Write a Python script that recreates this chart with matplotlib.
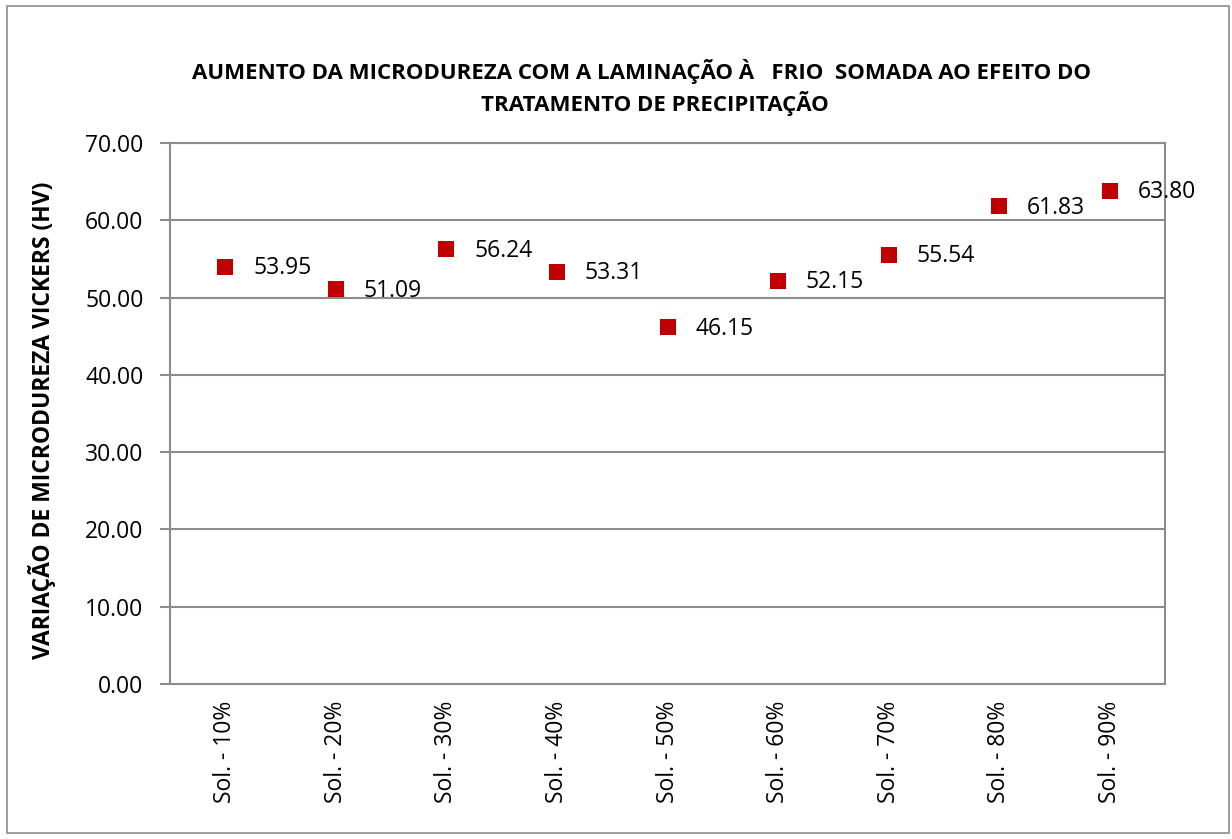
import matplotlib.pyplot as plt
from matplotlib.patches import Rectangle

# dados
categorias = ["Sol. - 10%", "Sol. - 20%", "Sol. - 30%", "Sol. - 40%", "Sol. - 50%",
              "Sol. - 60%", "Sol. - 70%", "Sol. - 80%", "Sol. - 90%"]
variacao_hv = [53.95, 51.09, 56.24, 53.31, 46.15, 52.15, 55.54, 61.83, 63.80]
yticks = [0, 10, 20, 30, 40, 50, 60, 70]

plt.rcParams["font.family"] = ["Open Sans", "DejaVu Sans"]
cinza = "#8c8c8c"
fs = 16.5

W, H = 1232, 839
fig = plt.figure(figsize=(W / 100, H / 100), dpi=100)
fig.patch.set_facecolor("white")

# moldura do gráfico
fig.add_artist(Rectangle((7 / W, 6 / H), 1222 / W, 827 / H, transform=fig.transFigure,
                         fill=False, edgecolor=cinza, linewidth=1.2))

ax = fig.add_axes([170 / W, 1 - 684 / H, 995 / W, 541 / H])
x = list(range(len(categorias)))
ax.scatter(x, variacao_hv, marker="s", s=118, color="#C00000", zorder=3, linewidths=0)

for xi, v in zip(x, variacao_hv):
    ax.annotate(f"{v:.2f}", (xi, v), xytext=(20, -1), textcoords="offset points",
                ha="left", va="center", fontsize=fs, color="black", annotation_clip=False, zorder=4)

ax.set_xlim(-0.5, len(categorias) - 0.5)
ax.set_ylim(0, 70)
ax.set_yticks(yticks)
ax.set_yticklabels([f"{t:.2f}" for t in yticks], fontsize=fs)
ax.set_xticks(x)
ax.set_xticklabels(categorias, rotation=90, fontsize=fs)
ax.tick_params(axis="x", length=0, pad=12)
ax.tick_params(axis="y", length=7, width=1.5, color=cinza, pad=12)
ax.yaxis.grid(True, color=cinza, linewidth=1.5)
ax.set_axisbelow(True)
for s in ax.spines.values():
    s.set_color(cinza)
    s.set_linewidth(1.5)

fig.text(42 / W, 1 - 420 / H, "VARIAÇÃO DE MICRODUREZA VICKERS (HV)", rotation=90,
         ha="center", va="center", fontsize=fs, fontweight="bold")

fig.text(641 / W, 1 - 72 / H, "AUMENTO DA MICRODUREZA COM A LAMINAÇÃO À   FRIO  SOMADA AO EFEITO DO",
         ha="center", va="center", fontsize=16, fontweight="bold")
fig.text(655 / W, 1 - 103 / H, "TRATAMENTO DE PRECIPITAÇÃO",
         ha="center", va="center", fontsize=16, fontweight="bold")

fig.savefig("out.png", dpi=100)
